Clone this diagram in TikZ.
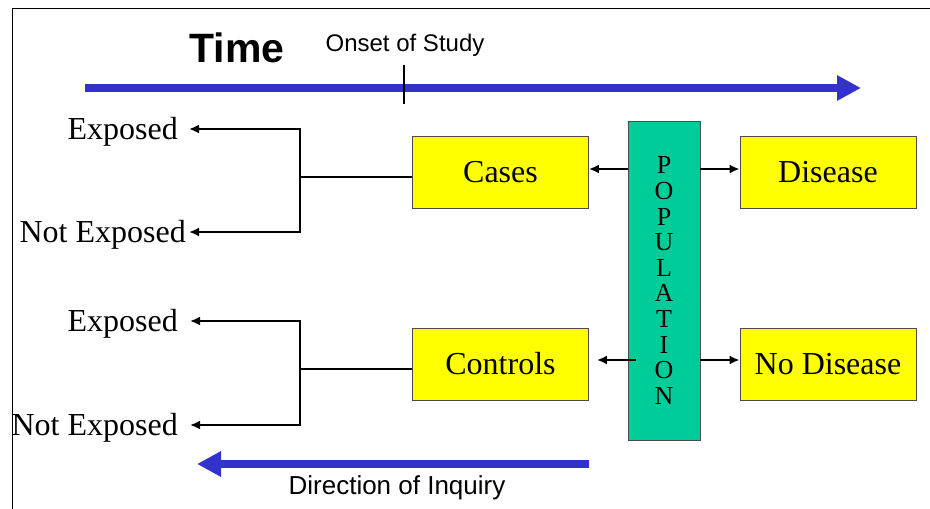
\documentclass[tikz,border=0pt]{standalone}
\usepackage{fontspec}
\setmainfont{Liberation Serif}
\setsansfont{Liberation Sans}
\usetikzlibrary{arrows.meta}
\definecolor{popgreen}{RGB}{0,204,153}
\definecolor{arrowblue}{RGB}{51,51,204}
\definecolor{boxyellow}{RGB}{255,255,0}
\newcommand\serifbig{\fontsize{32}{32}\selectfont}

\begin{document}
\begin{tikzpicture}[x=1pt,y=-1pt,line cap=butt,
  yelbox/.style={rectangle,fill=boxyellow,draw=black!70,line width=0.8pt,
    minimum width=176pt,minimum height=72pt,inner sep=0pt,font=\serifbig},
  popbox/.style={rectangle,fill=popgreen,draw=black!70,line width=0.8pt,
    minimum width=72pt,minimum height=319pt,inner sep=0pt,align=center,
    font=\fontsize{26}{25.6}\selectfont},
  side/.style={anchor=east,inner xsep=0pt,inner ysep=2pt,font=\serifbig},
  blk/.style={line width=2.8pt,-{Latex[length=10pt,width=9pt]}},
  bigarrow/.style={color=arrowblue,line width=8pt,-{Triangle[length=24pt,width=24pt]}}]
\useasboundingbox (0,0) rectangle (930,509);
% frame
\draw[line width=0.9pt] (930,8) -- (12,8) -- (12,509);

% time axis
\node[font=\sffamily\bfseries\fontsize{41}{41}\selectfont] (time) at (237,48) {Time};
\node[font=\sffamily\fontsize{24}{24}\selectfont] (onset) at (405,45) {Onset of Study};
\coordinate (tStart) at (85,88);
\coordinate (tEnd) at (861,88);
\draw[bigarrow] (tStart) -- (tEnd);
\draw[line width=2.2pt] (404,65) -- (404,104);

% boxes
\node[yelbox] (cases) at (500.5,172.5) {Cases};
\node[yelbox] (controls) at (500.5,364) {Controls};
\node[yelbox] (disease) at (828,172.5) {Disease};
\node[yelbox] (nodisease) at (828,364) {No Disease};
\node[popbox] (pop) at (664,280.5) {P\\O\\P\\U\\L\\A\\T\\I\\O\\N};

\draw[blk] (pop.west |- 0,169) -- (cases.east |- 0,169);
\draw[blk] (pop.east |- 0,169) -- (disease.west |- 0,169);
\draw[blk] ([xshift=8pt]pop.west |- 0,360) -- ([xshift=8pt]controls.east |- 0,360);
\draw[blk] (pop.east |- 0,360) -- (nodisease.west |- 0,360);

% exposure of cases
\node[side] (expA) at (178,132) {Exposed};
\node[side] (notA) at (186,235) {Not Exposed};
\coordinate (brA) at (300,177);
\draw[line width=2.8pt] (cases.west |- brA) -- (brA);
\draw[blk] (brA) |- ([xshift=11pt,yshift=3pt]expA.east);
\draw[blk] (brA) |- ([xshift=3pt,yshift=3pt]notA.east);

% exposure of controls
\node[side] (expB) at (178,324) {Exposed};
\node[side] (notB) at (178,428) {Not Exposed};
\coordinate (brB) at (300,369);
\draw[line width=2.8pt] (controls.west |- brB) -- (brB);
\draw[blk] (brB) |- ([xshift=12pt,yshift=3pt]expB.east);
\draw[blk] (brB) |- ([xshift=12pt,yshift=3pt]notB.east);

% inquiry
\coordinate (iStart) at (589,464);
\coordinate (iEnd) at (197,464);
\draw[bigarrow] (iStart) -- (iEnd);
\node[font=\sffamily\fontsize{26}{26}\selectfont] (inquiry) at (397,488) {Direction of Inquiry};
\end{tikzpicture}
\end{document}
